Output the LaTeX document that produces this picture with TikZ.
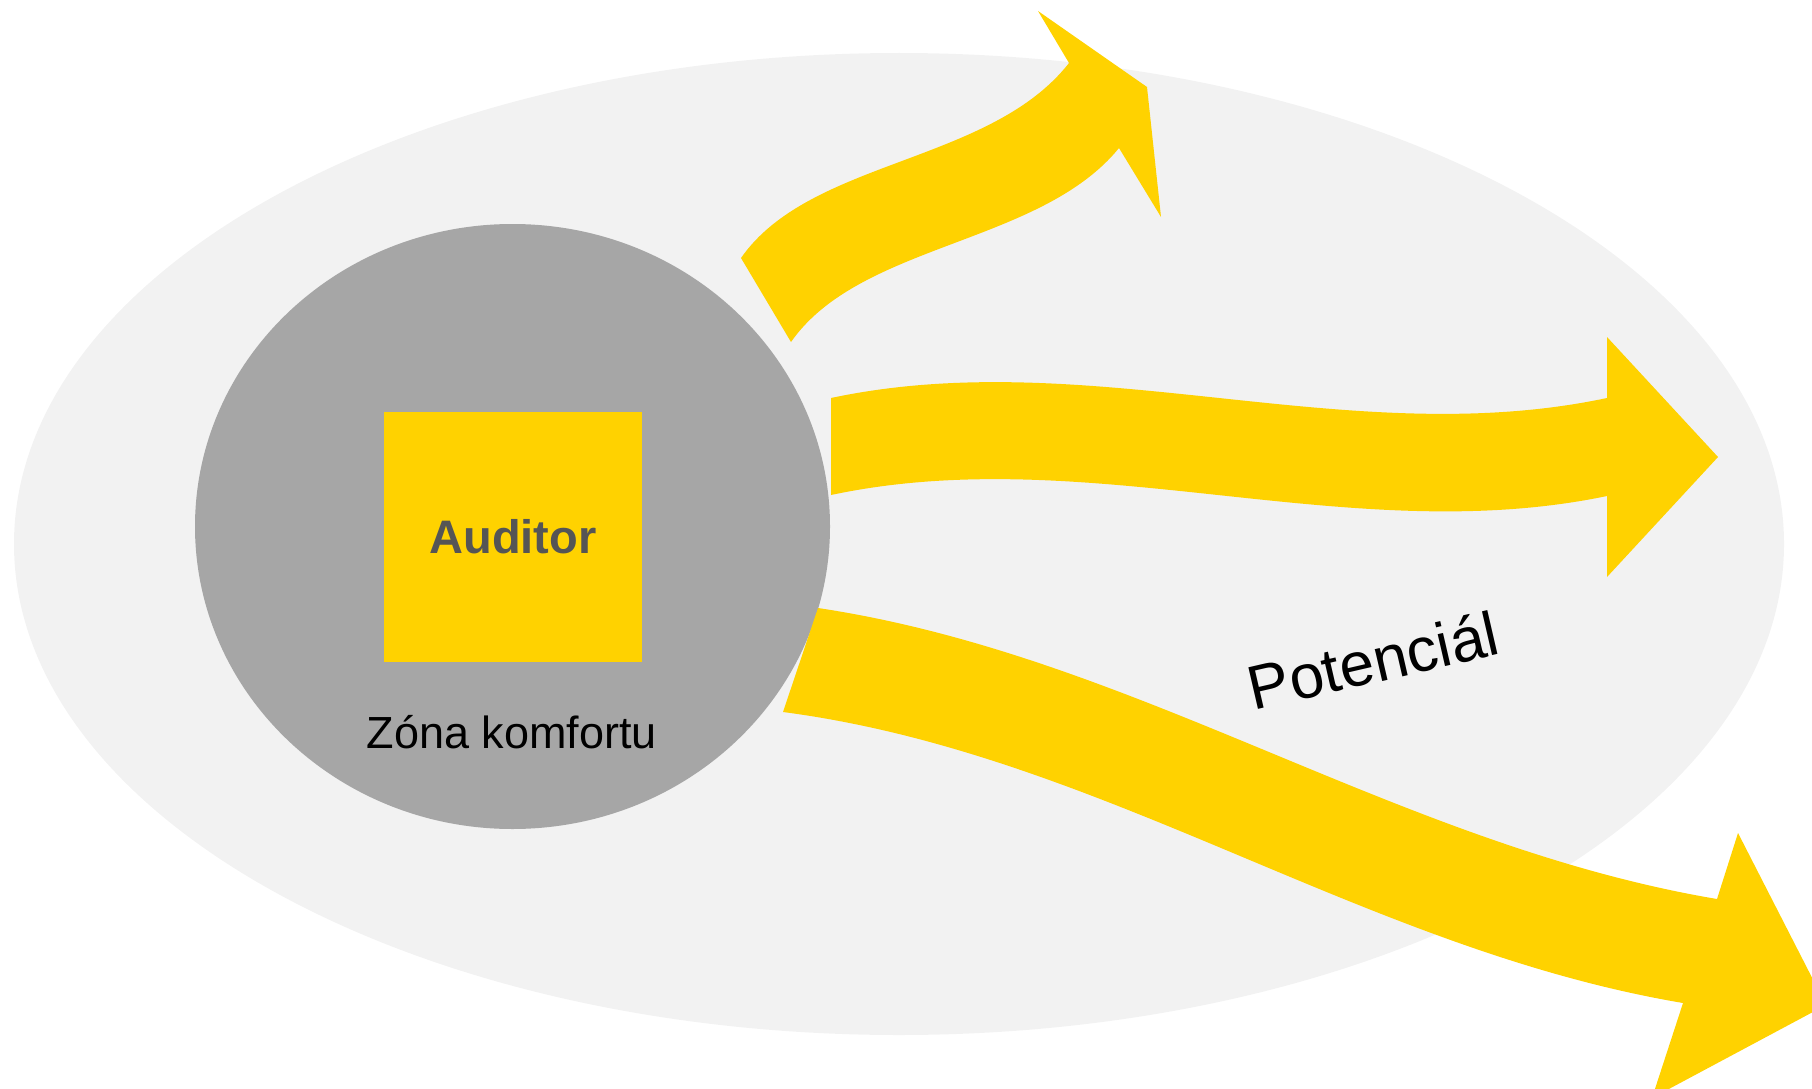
\documentclass[tikz,border=0pt]{standalone}
\usepackage{fontspec}
\setmainfont{Liberation Sans}
\usetikzlibrary{shapes.geometric}
\definecolor{ayellow}{RGB}{255,210,0}
\definecolor{agrey}{RGB}{166,166,166}
\definecolor{alight}{RGB}{242,242,242}
\definecolor{atext}{RGB}{85,85,85}
\begin{document}
\begin{tikzpicture}[x=1pt,y=-1pt,
  area/.style={ellipse, fill=alight, inner sep=0pt, minimum width=1770pt, minimum height=982pt},
  zone/.style={ellipse, fill=agrey, inner sep=0pt, minimum width=635pt, minimum height=605pt},
  box/.style={fill=ayellow, inner sep=0pt, minimum width=258pt, minimum height=250pt, text=atext, font=\fontsize{47}{56}\selectfont\bfseries},
  lbl/.style={inner sep=0pt, text=black},
  flow/.style={fill=ayellow}]
\path[use as bounding box, clip] (0,0) rectangle (1812,1089);
\node[area] (area) at (899,544) {};
\node[zone] (zone) at (512.5,526.5) {};
\node[box] (auditor) at (513,536.5) {Auditor};
\node[lbl, anchor=base, font=\fontsize{45}{54}\selectfont] (zl) at (512,748) {Zóna komfortu};
% top arrow
\fill[flow] (741,258) .. controls (810,159) and (990,164) .. (1069,63)
  -- (1038,11) -- (1147,87) -- (1161,217) -- (1119,148)
  .. controls (1040,245) and (860,243) .. (791,342) -- cycle;
% middle arrow
\fill[flow] (831,398) .. controls (1090,343) and (1348,453) .. (1607,398)
  -- (1607,337) -- (1718,457) -- (1607,577) -- (1607,496)
  .. controls (1348,550) and (1090,440) .. (831,495) -- cycle;
% bottom arrow
\fill[flow] (818,608) .. controls (1137,656) and (1397,845) .. (1717,899)
  -- (1738,833) -- (1826,1005) -- (1652,1098) -- (1683,1003)
  .. controls (1363,949) and (1103,754) .. (783,712) -- cycle;
\node[lbl, anchor=base, rotate=13, font=\fontsize{62}{74}\selectfont] (pot) at (1378,682) {Potenciál};
\end{tikzpicture}
\end{document}
